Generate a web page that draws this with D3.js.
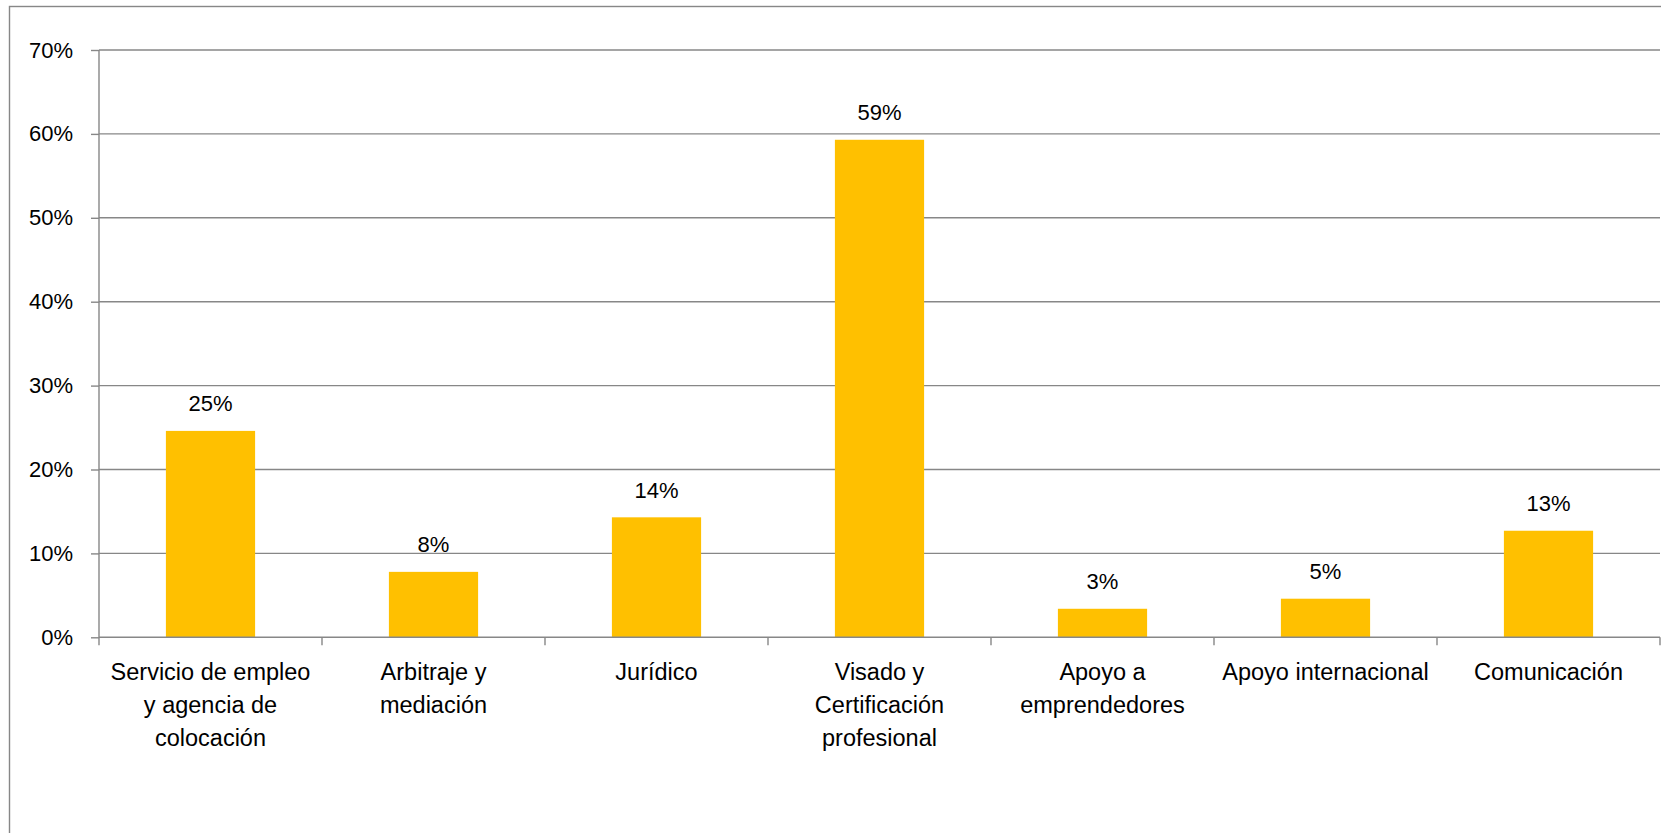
<!DOCTYPE html>
<html>
<head>
<meta charset="utf-8">
<script src="https://cdn.jsdelivr.net/npm/d3@7"></script>
<style>
  html, body { margin: 0; padding: 0; background: #fff; }
  svg { display: block; }
</style>
</head>
<body>
<svg id="chart" width="1661" height="833"></svg>
<script>
const categories = [
  ["Servicio de empleo", "y agencia de", "colocación"],
  ["Arbitraje y", "mediación"],
  ["Jurídico"],
  ["Visado y", "Certificación", "profesional"],
  ["Apoyo a", "emprendedores"],
  ["Apoyo internacional"],
  ["Comunicación"]
];
const values = [0.246, 0.078, 0.143, 0.593, 0.034, 0.046, 0.127];
const valueLabels = ["25%", "8%", "14%", "59%", "3%", "5%", "13%"];
const yTicks = [0, 0.1, 0.2, 0.3, 0.4, 0.5, 0.6, 0.7];

const svg = d3.select("#chart");
const font = "'Liberation Sans', Arial, sans-serif";

// outer chart border
svg.append("rect")
  .attr("x", 9.5).attr("y", 6.5)
  .attr("width", 1700).attr("height", 900)
  .attr("fill", "none").attr("stroke", "#878787").attr("stroke-width", 1.4);

const x0 = 99, x1 = 1660, yTop = 50, yBottom = 637.3;
const idx = categories.map((d, i) => i);
const x = d3.scaleBand().domain(idx).range([x0, x1]).paddingInner(0).paddingOuter(0);
const y = d3.scaleLinear().domain([0, 0.7]).range([yBottom, yTop]);

// gridlines
svg.append("g").selectAll("line").data(yTicks.filter(t => t > 0)).join("line")
  .attr("x1", x0).attr("x2", x1)
  .attr("y1", d => y(d)).attr("y2", d => y(d))
  .attr("stroke", "#878787").attr("stroke-width", 1.4);

// y axis
const yAxis = d3.axisLeft(y).tickValues(yTicks).tickSize(8).tickPadding(18)
  .tickFormat(d => Math.round(d * 100) + "%");
const gy = svg.append("g").attr("transform", `translate(${x0},0)`).call(yAxis);
gy.select(".domain").remove();
gy.append("line").attr("x1", 0).attr("x2", 0).attr("y1", yTop).attr("y2", yBottom)
  .attr("stroke", "#878787").attr("stroke-width", 1.4);
gy.selectAll(".tick line").attr("stroke", "#878787").attr("stroke-width", 1.4);
gy.selectAll(".tick text").attr("font-family", font).attr("font-size", 22).attr("fill", "#000");

// bars
const barW = x.bandwidth() * 0.4;
svg.append("g").selectAll("rect").data(values).join("rect")
  .attr("x", (d, i) => x(i) + x.bandwidth() / 2 - barW / 2)
  .attr("width", barW)
  .attr("y", d => y(d))
  .attr("height", d => yBottom - y(d))
  .attr("fill", "#FFC000");

// x axis
svg.append("line").attr("x1", x0).attr("x2", x1).attr("y1", yBottom).attr("y2", yBottom)
  .attr("stroke", "#878787").attr("stroke-width", 1.4);
const boundaries = idx.map(i => x(i)).concat([x1]);
svg.append("g").selectAll("line").data(boundaries).join("line")
  .attr("x1", d => d).attr("x2", d => d)
  .attr("y1", yBottom).attr("y2", yBottom + 8)
  .attr("stroke", "#878787").attr("stroke-width", 1.4);

// category labels
const cl = svg.append("g").selectAll("text").data(categories).join("text")
  .attr("font-family", font).attr("font-size", 23.5).attr("fill", "#000")
  .attr("text-anchor", "middle");
cl.each(function(lines, i) {
  const t = d3.select(this);
  lines.forEach((ln, k) => {
    t.append("tspan").attr("x", x(i) + x.bandwidth() / 2).attr("y", 680 + k * 33).text(ln);
  });
});

// data labels
svg.append("g").selectAll("text").data(values).join("text")
  .attr("x", (d, i) => x(i) + x.bandwidth() / 2)
  .attr("y", d => y(d) - 19.5)
  .attr("text-anchor", "middle")
  .attr("font-family", font).attr("font-size", 22).attr("fill", "#000")
  .text((d, i) => valueLabels[i]);
</script>
</body>
</html>
